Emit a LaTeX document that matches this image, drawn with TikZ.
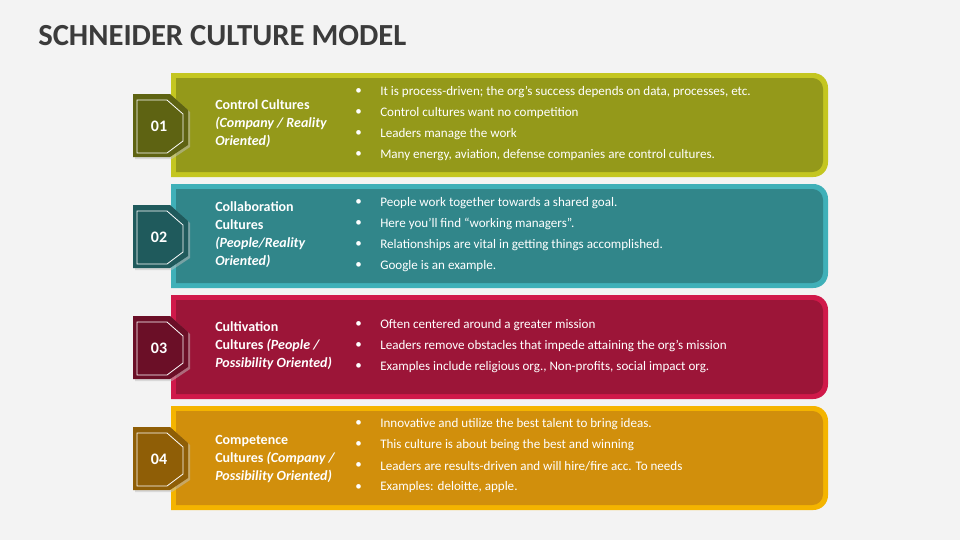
\documentclass[tikz,border=0pt]{standalone}
\usepackage{fontspec}
\setmainfont{Carlito}
\usetikzlibrary{positioning}
\definecolor{bgcol}{RGB}{243,243,243}
\definecolor{titlecol}{RGB}{59,59,59}
\definecolor{oliveout}{RGB}{196,198,32}
\definecolor{olivein}{RGB}{148,153,26}
\definecolor{olivebadge}{RGB}{94,99,18}
\definecolor{tealout}{RGB}{63,176,184}
\definecolor{tealin}{RGB}{49,134,138}
\definecolor{tealbadge}{RGB}{31,90,92}
\definecolor{redout}{RGB}{208,25,74}
\definecolor{redin}{RGB}{156,21,56}
\definecolor{redbadge}{RGB}{107,15,39}
\definecolor{goldout}{RGB}{244,180,0}
\definecolor{goldin}{RGB}{209,143,12}
\definecolor{goldbadge}{RGB}{143,94,6}

\begin{document}
\begin{tikzpicture}[
    x=0.75pt, y=-0.75pt,
    label/.style={anchor=west, align=left, text=white, font=\fontsize{10.5}{13.5}\selectfont\bfseries, inner sep=0pt},
    point/.style={anchor=west, text=white, font=\fontsize{9.8}{12}\selectfont, inner sep=0pt},
    num/.style={text=white, font=\fontsize{12}{14}\selectfont\bfseries}
]
    \fill[bgcol] (0,0) rectangle (960,540);
    \node[anchor=west, text=titlecol, font=\fontsize{23}{26}\selectfont\bfseries, inner sep=0pt] (title) at (38,36) {SCHNEIDER CULTURE MODEL};

    % Rows: top, outer colour, inner colour, badge colour, number
    \foreach \t/\co/\ci/\cb/\n in {73/oliveout/olivein/olivebadge/01, 184/tealout/tealin/tealbadge/02, 295/redout/redin/redbadge/03, 406/goldout/goldin/goldbadge/04}{
        \fill[\co] (171,\t+104) -- (171,\t) [rounded corners=11] -- (828,\t) -- (828,\t+104) [sharp corners] -- cycle;
        \fill[\ci] (176,\t+99) -- (176,\t+5) [rounded corners=8] -- (823,\t+5) -- (823,\t+99) [sharp corners] -- cycle;
        \fill[black!25, opacity=0.5] (135,\t+23) -- (172,\t+23) -- (190,\t+39) -- (190,\t+74) -- (172,\t+86) -- (135,\t+86) -- cycle;
        \fill[\cb] (133,\t+21) -- (170,\t+21) -- (188,\t+37) -- (188,\t+72) -- (170,\t+84) -- (133,\t+84) -- cycle;
        \draw[white, line width=0.6pt] (137,\t+27) -- (167,\t+27) -- (183,\t+41) -- (183,\t+68) -- (167,\t+80) -- (137,\t+80) -- cycle;
        \node[num] (num\n) at (159,\t+53) {\n};
    }

    % Row 1
    \node[label] (name1) at (215,124) {Control Cultures\\\itshape(Company / Reality\\\itshape Oriented)};
    \foreach \y/\s in {92/{It is process-driven; the org’s success depends on data, processes, etc.}, 113/{Control cultures want no competition}, 134/{Leaders manage the work}, 155/{Many energy, aviation, defense companies are control cultures.}}{
        \node[point] at (355,\y) {•};
        \node[point] at (380,\y) {\s};
    }

    % Row 2
    \node[label] (name2) at (215,235) {Collaboration\\Cultures\\\itshape(People/Reality\\\itshape Oriented)};
    \foreach \y/\s in {203/{People work together towards a shared goal.}, 224/{Here you’ll find “working managers”.}, 245/{Relationships are vital in getting things accomplished.}, 266/{Google is an example.}}{
        \node[point] at (355,\y) {•};
        \node[point] at (380,\y) {\s};
    }

    % Row 3
    \node[label] (name3) at (215,346) {Cultivation\\Cultures \itshape(People /\\\itshape Possibility Oriented)};
    \foreach \y/\s in {325/{Often centered around a greater mission}, 346/{Leaders remove obstacles that impede attaining the org’s mission}, 367/{Examples include religious org., Non-profits, social impact org.}}{
        \node[point] at (355,\y) {•};
        \node[point] at (380,\y) {\s};
    }

    % Row 4
    \node[label] (name4) at (215,459) {Competence\\Cultures \itshape(Company /\\\itshape Possibility Oriented)};
    \foreach \y/\s in {424/{Innovative and utilize the best talent to bring ideas.}, 445/{This culture is about being the best and winning}, 466/{Leaders are results-driven and will hire/fire acc. To needs}, 487/{Examples: deloitte, apple.}}{
        \node[point] at (355,\y) {•};
        \node[point] at (380,\y) {\s};
    }
\end{tikzpicture}
\end{document}
